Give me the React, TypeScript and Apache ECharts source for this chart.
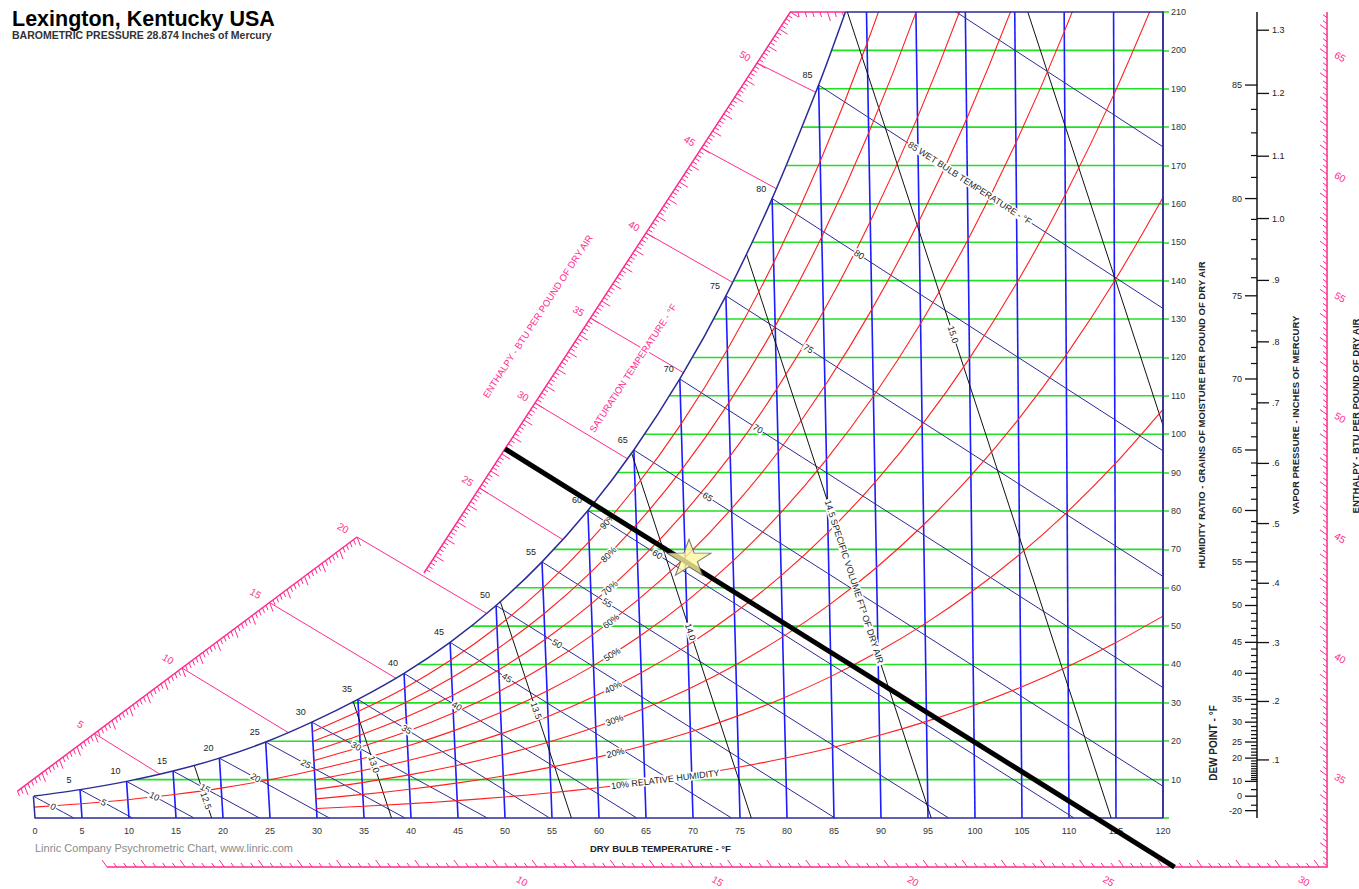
import React, { useEffect, useRef } from 'react';
import * as echarts from 'echarts';

// ------------------------------------------------------------------ data
const CHART_TITLE = 'Lexington, Kentucky USA';
const CHART_SUBTITLE = 'BAROMETRIC PRESSURE 28.874 Inches of Mercury';
const CREDIT = 'Linric Company Psychrometric Chart, www.linric.com';
const BAROMETRIC_INHG = 28.874;

// saturation vapour pressure table (dry bulb °F -> inches of mercury)
const tableTemps = [-20, -10, 0, 5, 10, 15, 20, 25, 30, 35, 40, 45, 50, 55, 60, 65, 70, 75, 80, 85, 90, 95, 100, 105, 110, 115, 120];
const tableSatPressure = [0.01268, 0.02203, 0.03764, 0.04895, 0.06313, 0.08087, 0.1031, 0.1307, 0.1647, 0.2035, 0.2478, 0.3004, 0.3626, 0.4359, 0.5218, 0.6222, 0.7392, 0.875, 1.0321, 1.2133, 1.4215, 1.66, 1.9325, 2.2429, 2.5955, 2.9953, 3.4466];

const dryBulbLines = [5, 10, 15, 20, 25, 30, 35, 40, 45, 50, 55, 60, 65, 70, 75, 80, 85, 90, 95, 100, 105, 110, 115];
const grainLines = [10, 20, 30, 40, 50, 60, 70, 80, 90, 100, 110, 120, 130, 140, 150, 160, 170, 180, 190, 200];
const rhLevels = [10, 20, 30, 40, 50, 60, 70, 80, 90];
const rhFullRangeLevel = 50;
const rhStartTemp = 30;
const rhLabelTemp = 62;
const wetBulbLines = [0, 5, 10, 15, 20, 25, 30, 35, 40, 45, 50, 55, 60, 65, 70, 75, 80, 85, 90];
const wetBulbLabels = [0, 5, 10, 15, 20, 25, 30, 35, 40, 45, 50, 55, 60, 65, 70, 75, 80, 85];
const satLabels = [5, 10, 15, 20, 25, 30, 35, 40, 45, 50, 55, 60, 65, 70, 75, 80, 85];
const specificVolumes = [12.5, 13, 13.5, 14, 14.5, 15, 15.5];
const specificVolumeLabels = ['12.5', '13.0', '13.5', '14.0', '14.5 SPECIFIC VOLUME FT³ OF DRY AIR', '15.0'];
const specVolLabelGrains = [4.5, 14, 28, 48.5, 83, 126];
const enthalpyGuideLines = [5, 10, 15, 20, 25, 30, 35, 40, 45, 50];
const bottomEnthalpyLabels = [10, 15, 20, 25, 30];
const rightEnthalpyLabels = [35, 40, 45, 50, 55, 60, 65];
const dewPointLabels = [85, 80, 75, 70, 65, 60, 55, 50, 45, 40, 35, 30, 25, 20, 10, 0, -20];
const vaporPressureLabels = [0.1, 0.2, 0.3, 0.4, 0.5, 0.6, 0.7, 0.8, 0.9, 1.0, 1.1, 1.2, 1.3];
const statePoint = { dryBulb: 70.4, grains: 67.9 };
const stateEnthalpy = 27.3;

// ------------------------------------------------------------------ style
const FONT = '"Liberation Sans", Arial, Helvetica, sans-serif';
const NAVY = '#2b2b96';
const BLUE = '#1c1cff';
const GREEN = '#22e022';
const RED = '#ff1f1f';
const PINK = '#ff2a8e';
const INK = '#222222';

// layout of the extra scales, in chart (dry bulb, grains) coordinates
const TILT = 0.000245;
const DEW_SCALE_X = 130;
const RIGHT_SCALE_X = 137.45;
const BOTTOM_SCALE_W = -12.77;
const CORNER_H = 31.2;

// ------------------------------------------------------------------ psychrometrics helpers
function pwsAt(T: number) {
  const n = tableTemps.length;
  let i = 0;
  while (i < n - 2 && T > tableTemps[i + 1]) i++;
  const t0 = tableTemps[i], t1 = tableTemps[i + 1];
  const l0 = Math.log(tableSatPressure[i]), l1 = Math.log(tableSatPressure[i + 1]);
  return Math.exp(l0 + ((l1 - l0) * (T - t0)) / (t1 - t0));
}
const grainsFromPw = (pw: number) => (7000 * 0.621945 * pw) / (BAROMETRIC_INHG - pw);
const wsat = (T: number) => grainsFromPw(pwsAt(T));
const enthalpyOf = (T: number, gr: number) => 0.24 * T + (gr / 7000) * (1061 + 0.444 * T);
function bisect(f: (x: number) => number, lo: number, hi: number) {
  let flo = f(lo);
  for (let k = 0; k < 60; k++) {
    const mid = (lo + hi) / 2;
    const fm = f(mid);
    if (fm < 0 === flo < 0) { lo = mid; flo = fm; } else hi = mid;
  }
  return (lo + hi) / 2;
}
const tempAtSatGrains = (gr: number) => bisect((T) => wsat(T) - gr, -20, 120);
const tempAtSatEnthalpy = (h: number) => bisect((T) => enthalpyOf(T, wsat(T)) - h, -20, 120);
const pt = (T: number, gr: number) => [T - TILT * (120 - T) * gr, gr];

function wbGrains(twb: number, T: number) {
  const ws = wsat(twb) / 7000;
  const w = twb >= 32
    ? ((1093 - 0.556 * twb) * ws - 0.24 * (T - twb)) / (1093 + 0.444 * T - twb)
    : ((1220 - 0.04 * twb) * ws - 0.24 * (T - twb)) / (1220 + 0.444 * T - 0.48 * twb);
  return w * 7000;
}
function wetBulbPath(twb: number) {
  const tStart = wsat(twb) <= 210 ? twb : bisect((T) => wbGrains(twb, T) - 210, twb, 120);
  let tEnd = bisect((T) => wbGrains(twb, T), twb, twb + 300);
  if (tEnd > 120) tEnd = 120;
  const pts: number[][] = [];
  for (let k = 0; k <= 4; k++) {
    const T = tStart + ((tEnd - tStart) * k) / 4;
    pts.push(pt(T, Math.max(0, wbGrains(twb, T))));
  }
  return pts;
}
const SV_K = 53.352 / (BAROMETRIC_INHG * 70.7262);
const svTemp = (v: number, gr: number) => v / (SV_K * (1 + (1.6078 * gr) / 7000)) - 459.67;
function specVolPath(v: number) {
  const g0 = svTemp(v, 0) <= 120 ? 0 : bisect((g) => svTemp(v, g) - 120, 0, 210);
  const f = (g: number) => g - wsat(svTemp(v, g));
  const g1 = f(210) <= 0 ? 210 : bisect(f, g0, 210);
  const gm = (g0 + g1) / 2;
  return [g0, gm, g1].map((g) => pt(svTemp(v, g), g));
}
// enthalpy scales
const upperScale = (h: number) => [41.38 + 1.181 * (h - 20), 63.84 + 4.429 * (h - 20)];
const lowerScale = (h: number) => [34.26 + 1.862 * (h - 20), 73.21 + 3.413 * (h - 20)];
const topScale = (h: number) => [80.35 + 3.95 * (h - 53), 210];
const bottomScale = (h: number) => [49.26 + 4.16 * (h - 10), BOTTOM_SCALE_W];
const rightScale = (h: number) => [RIGHT_SCALE_X, BOTTOM_SCALE_W + 6.269 * (h - CORNER_H)];
const satPointForH = (h: number) => { const T = tempAtSatEnthalpy(h); return pt(T, wsat(T)); };

// ------------------------------------------------------------------ series builders
type Seg = { pts: number[][]; color: string; width: number };
function polySeries(segs: Seg[], z: number) {
  return {
    type: 'custom', coordinateSystem: 'cartesian2d', silent: true, z, clip: false,
    encode: { x: 0, y: 1 },
    data: segs.map((s) => [s.pts[0][0], s.pts[0][1]]),
    renderItem: (params: any, api: any) => {
      const s = segs[params.dataIndex];
      return {
        type: 'polyline',
        shape: { points: s.pts.map((p) => api.coord(p)) },
        style: { stroke: s.color, lineWidth: s.width, fill: 'none' },
      };
    },
  };
}
type Tick = { at: number[]; vec: number[]; color: string; width: number };
function tickSeries(ticks: Tick[], z: number) {
  return {
    type: 'custom', coordinateSystem: 'cartesian2d', silent: true, z, clip: false,
    encode: { x: 0, y: 1 },
    data: ticks.map((t) => [t.at[0], t.at[1]]),
    renderItem: (params: any, api: any) => {
      const t = ticks[params.dataIndex];
      const p = api.coord(t.at);
      return {
        type: 'line',
        shape: { x1: p[0], y1: p[1], x2: p[0] + t.vec[0], y2: p[1] + t.vec[1] },
        style: { stroke: t.color, lineWidth: t.width },
      };
    },
  };
}
type Label = {
  at: number[]; text: string; dx?: number; dy?: number; rot?: number; along?: number[][];
  align?: string; color?: string; size?: number; bold?: boolean; bg?: boolean;
};
function labelSeries(labels: Label[], z: number) {
  return {
    type: 'custom', coordinateSystem: 'cartesian2d', silent: true, z, clip: false,
    encode: { x: 0, y: 1 },
    data: labels.map((l) => [l.at[0], l.at[1]]),
    renderItem: (params: any, api: any) => {
      const l = labels[params.dataIndex];
      const p = api.coord(l.at);
      let r = ((l.rot || 0) * Math.PI) / 180;
      if (l.along) {
        const a = api.coord(l.along[0]);
        const b = api.coord(l.along[1]);
        let dx = b[0] - a[0], dy = b[1] - a[1];
        if (dx < 0) { dx = -dx; dy = -dy; }
        r = Math.atan2(-dy, dx);
      }
      const style: any = {
        text: l.text,
        fill: l.color || INK,
        font: `${l.bold ? 'bold ' : ''}${l.size || 9}px ${FONT}`,
        align: l.align || 'center',
        verticalAlign: 'middle',
      };
      if (l.bg) { style.backgroundColor = '#ffffff'; style.padding = [0, 1]; }
      return { type: 'text', x: p[0] + (l.dx || 0), y: p[1] + (l.dy || 0), rotation: r, style };
    },
  };
}

function buildOption() {
  const series: any[] = [];
  const tTop = tempAtSatGrains(210);
  const satTopX = pt(tTop, 210)[0];

  // humidity ratio (green)
  series.push(polySeries(grainLines.map((g) => ({ pts: [pt(tempAtSatGrains(g), g), [120, g]], color: GREEN, width: 1.6 })), 2));
  // dry bulb (blue)
  series.push(polySeries(dryBulbLines.map((T) => ({ pts: [pt(T, 0), pt(T, Math.min(wsat(T), 210))], color: BLUE, width: 1.6 })), 3));
  // relative humidity (red)
  rhLevels.forEach((rh) => {
    const temps = tableTemps.filter((T) => T >= (rh === rhFullRangeLevel ? 0 : rhStartTemp));
    series.push({
      type: 'line', silent: true, z: 3, clip: true, smooth: 0.3, showSymbol: false, symbol: 'none',
      lineStyle: { color: RED, width: 1.1 },
      data: temps.map((T) => pt(T, grainsFromPw((rh / 100) * pwsAt(T)))),
    });
  });
  // wet bulb (navy)
  series.push(polySeries(wetBulbLines.map((t) => ({ pts: wetBulbPath(t), color: NAVY, width: 1 })), 3));
  // specific volume (black)
  series.push(polySeries(specificVolumes.map((v) => ({ pts: specVolPath(v), color: '#111111', width: 1 })), 3));
  // enthalpy guide lines and scales (pink)
  const pinkSegs: Seg[] = enthalpyGuideLines.map((h) => ({ pts: [h <= 20 ? lowerScale(h) : upperScale(h), satPointForH(h)], color: PINK, width: 1 }));
  pinkSegs.push({ pts: [lowerScale(0.6), lowerScale(20)], color: PINK, width: 1.5 });
  pinkSegs.push({ pts: [upperScale(20), upperScale(53), [satTopX, 210]], color: PINK, width: 1.5 });
  pinkSegs.push({ pts: [bottomScale(0), bottomScale(CORNER_H), rightScale(66.74)], color: PINK, width: 1.5 });
  series.push(polySeries(pinkSegs, 3));

  const ticks: Tick[] = [];
  for (let i = 3; i <= 100; i++) ticks.push({ at: lowerScale(i / 5), vec: i % 5 === 0 ? [3.5, 9] : [2, 5], color: PINK, width: 1 });
  for (let i = 101; i <= 265; i++) ticks.push({ at: upperScale(i / 5), vec: i % 5 === 0 ? [8.5, 5.2] : [4.2, 2.6], color: PINK, width: 1 });
  const hTopEnd = 53 + (satTopX - 80.35) / 3.95;
  for (let i = 266; i / 5 <= hTopEnd; i++) ticks.push({ at: topScale(i / 5), vec: i % 5 === 0 ? [3, 9] : [1.5, 5], color: PINK, width: 1 });
  for (let i = 0; i <= 124; i++) ticks.push({ at: bottomScale(i / 4), vec: i % 4 === 0 ? [-5, -7] : [-3, -4], color: PINK, width: 1 });
  for (let i = 125; i <= 266; i++) ticks.push({ at: rightScale(i / 4), vec: i % 4 === 0 ? [-7, -5] : [-4, -3], color: PINK, width: 1 });
  // dew point / vapour pressure scale
  dewPointLabels.forEach((d) => ticks.push({ at: [DEW_SCALE_X, wsat(d)], vec: [-12, 0], color: '#111', width: 1.3 }));
  const dewMinor: number[] = [-10, 5];
  for (let d = 11; d <= 84; d++) if (!dewPointLabels.includes(d)) dewMinor.push(d);
  dewMinor.forEach((d) => ticks.push({ at: [DEW_SCALE_X, wsat(d)], vec: [-6, 0], color: '#111', width: 1.2 }));
  vaporPressureLabels.forEach((p) => ticks.push({ at: [DEW_SCALE_X, grainsFromPw(p)], vec: [12, 0], color: '#111', width: 1.3 }));
  series.push(tickSeries(ticks, 3));
  series.push(polySeries([{ pts: [[DEW_SCALE_X, 0], [DEW_SCALE_X, 210]], color: '#111', width: 1.5 }], 3));

  // saturation curve + frame
  const satPts = tableTemps.filter((T) => T >= 0 && T < tTop).map((T) => pt(T, wsat(T)));
  satPts.push(pt(tTop, 210));
  series.push({
    type: 'line', silent: true, z: 4, clip: false, smooth: 0.3, showSymbol: false, symbol: 'none',
    lineStyle: { color: NAVY, width: 1.5 }, data: satPts,
  });
  series.push(polySeries([
    { pts: [pt(tTop, 210), [120, 210], [120, 0]], color: NAVY, width: 1.5 },
    { pts: [[0, 0], pt(0, wsat(0))], color: NAVY, width: 1.5 },
  ], 4));

  // labels
  const labels: Label[] = [];
  satLabels.forEach((T) => labels.push({ at: pt(T, wsat(T)), text: String(T), dx: -11, dy: -10, size: 9 }));
  wetBulbLabels.forEach((twb) => {
    const path = wetBulbPath(twb);
    const last = twb === 85;
    const T = last ? 94 : twb + 2 + 0.085 * twb;
    labels.push({
      at: pt(T, wbGrains(twb, T)), text: last ? '85 WET BULB TEMPERATURE - °F' : String(twb),
      along: [path[0], path[path.length - 1]], align: last ? 'left' : 'center', size: 9, bg: true,
    });
  });
  rhLevels.forEach((rh) => {
    const g = (T: number) => grainsFromPw((rh / 100) * pwsAt(T));
    const first = rh === 10;
    const T = first ? 61.3 : rhLabelTemp;
    labels.push({
      at: pt(T, g(T)), text: first ? '10% RELATIVE HUMIDITY' : `${rh}%`,
      along: [pt(60, g(60)), pt(65, g(65))], align: first ? 'left' : 'center', size: 9, bg: true,
    });
  });
  specificVolumeLabels.forEach((txt, i) => {
    const v = specificVolumes[i];
    const path = specVolPath(v);
    const g = specVolLabelGrains[i];
    labels.push({ at: pt(svTemp(v, g), g), text: txt, along: [path[path.length - 1], path[0]], align: i === 4 ? 'left' : 'center', size: 9, bg: true });
  });
  enthalpyGuideLines.forEach((h) => {
    const lower = h <= 20;
    labels.push({ at: lower ? lowerScale(h) : upperScale(h), text: String(h), dx: lower ? -14 : -12, dy: lower ? -9 : -7, rot: -31, color: PINK, size: 10 });
  });
  bottomEnthalpyLabels.forEach((h) => labels.push({ at: bottomScale(h), text: String(h), dx: 24, dy: 14, rot: -31, color: PINK, size: 10 }));
  rightEnthalpyLabels.forEach((h) => labels.push({ at: rightScale(h), text: String(h), dx: 13, dy: 3, rot: -31, color: PINK, size: 10 }));
  labels.push({ at: upperScale(35.1), text: 'ENTHALPY - BTU PER POUND OF DRY AIR', dx: -54, along: [upperScale(20), upperScale(50)], color: PINK, size: 9.5 });
  labels.push({ at: upperScale(32.06), text: 'SATURATION TEMPERATURE - °F', dx: 75, along: [upperScale(20), upperScale(50)], color: PINK, size: 9.5, bg: true });
  dewPointLabels.forEach((d) => labels.push({ at: [DEW_SCALE_X, wsat(d)], text: String(d), dx: -15, align: 'right', size: 9 }));
  vaporPressureLabels.forEach((p) => labels.push({ at: [DEW_SCALE_X, grainsFromPw(p)], text: p < 1 ? '.' + Math.round(p * 10) : p.toFixed(1), dx: 15, align: 'left', size: 9 }));
  series.push(labelSeries(labels, 5));

  // state point enthalpy line + star
  series.push(polySeries([{ pts: [upperScale(stateEnthalpy), bottomScale(stateEnthalpy)], color: '#000000', width: 5 }], 6));
  series.push({
    type: 'scatter', z: 7, silent: true, clip: false,
    symbol: 'path://M0,-50 L11.2,-15.5 L47.6,-15.5 L18.2,5.9 L29.4,40.5 L0,19.1 L-29.4,40.5 L-18.2,5.9 L-47.6,-15.5 L-11.2,-15.5 Z',
    symbolSize: [44, 36],
    itemStyle: { color: '#fff8a0', borderColor: '#555555', borderWidth: 1 },
    data: [pt(statePoint.dryBulb, statePoint.grains)],
  });

  const txt = (x: number, y: number, text: string, font: string, fill: string, align = 'left', rotation = 0) => ({
    type: 'text', x, y, rotation, z: 100,
    style: { text, font, fill, align, verticalAlign: 'middle' },
  });

  return {
    animation: false,
    textStyle: { fontFamily: FONT },
    grid: { left: 35, right: 196, top: 12, bottom: 71, containLabel: false },
    xAxis: {
      type: 'value', min: 0, max: 120, interval: 5,
      axisLine: { onZero: false, lineStyle: { color: NAVY, width: 1.5 } },
      axisTick: { show: false }, splitLine: { show: false },
      axisLabel: { fontSize: 9, color: '#333', margin: 8, showMinLabel: true, showMaxLabel: true },
    },
    yAxis: {
      type: 'value', position: 'right', min: 0, max: 210, interval: 10,
      axisLine: { show: true, onZero: false, lineStyle: { color: NAVY, width: 1.5 } },
      axisTick: { show: true, length: 6, lineStyle: { color: GREEN, width: 1.5 } },
      splitLine: { show: false },
      axisLabel: { fontSize: 9, color: '#333', margin: 8, formatter: (v: number) => (v === 0 ? '' : String(v)) },
      name: 'HUMIDITY RATIO - GRAINS OF MOISTURE PER POUND OF DRY AIR',
      nameLocation: 'middle', nameGap: 33, nameRotate: 90,
      nameTextStyle: { fontSize: 9.5, fontWeight: 'bold', color: INK },
    },
    graphic: [
      txt(12, 18.7, CHART_TITLE, `bold 21.5px ${FONT}`, '#000'),
      txt(12, 35, CHART_SUBTITLE, `bold 10.5px ${FONT}`, '#333'),
      txt(35, 848, CREDIT, `11px ${FONT}`, '#8a8a8a'),
      txt(590, 848, 'DRY BULB TEMPERATURE - °F', `bold 9.5px ${FONT}`, INK),
      txt(1213, 743, 'DEW POINT - °F', `bold 10px ${FONT}`, INK, 'center', Math.PI / 2),
      txt(1295, 415, 'VAPOR PRESSURE - INCHES OF MERCURY', `bold 9.5px ${FONT}`, INK, 'center', Math.PI / 2),
      txt(1355, 416, 'ENTHALPY - BTU PER POUND OF DRY AIR', `bold 9.5px ${FONT}`, INK, 'center', Math.PI / 2),
    ],
    series,
  };
}

export default function App() {
  const ref = useRef<HTMLDivElement>(null);
  useEffect(() => {
    const chart = echarts.init(ref.current as HTMLDivElement, undefined, { renderer: 'svg' });
    chart.setOption(buildOption() as any);
    return () => chart.dispose();
  }, []);
  return <div ref={ref} style={{ position: 'fixed', left: 0, top: 0, width: 1359, height: 889, background: '#ffffff' }} />;
}
